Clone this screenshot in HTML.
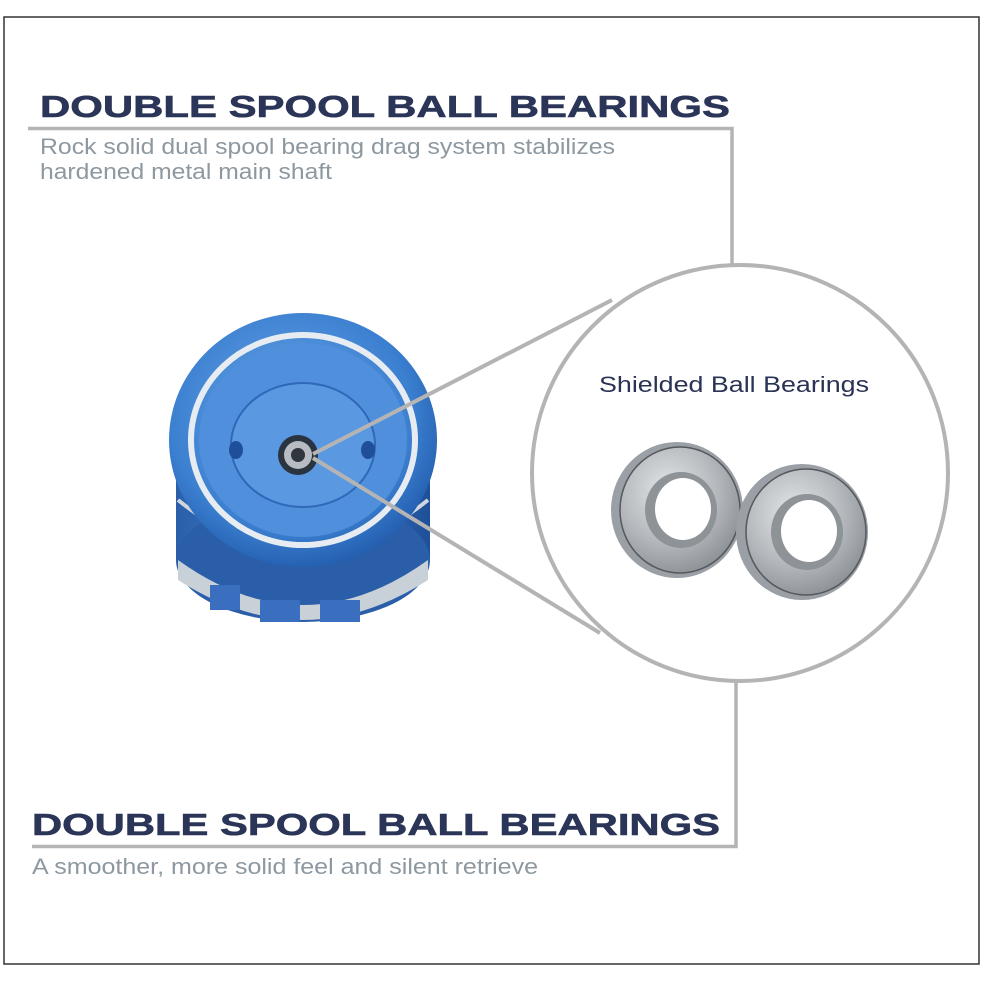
<!DOCTYPE html>
<html><head><meta charset="utf-8"><style>
html,body{margin:0;padding:0;background:#fff;width:984px;height:984px;overflow:hidden}
svg{display:block}
</style></head><body>
<svg width="984" height="984" viewBox="0 0 984 984" xmlns="http://www.w3.org/2000/svg">
<defs>
<radialGradient id="blue" cx="45%" cy="40%" r="65%">
<stop offset="0" stop-color="#6aa6e6"/><stop offset="0.7" stop-color="#3b7fd0"/><stop offset="1" stop-color="#1f57a8"/>
</radialGradient>
<linearGradient id="side" x1="0" y1="0" x2="1" y2="0">
<stop offset="0" stop-color="#2a5ea8"/><stop offset="0.5" stop-color="#4a8ad8"/><stop offset="1" stop-color="#1e4f98"/>
</linearGradient>
<radialGradient id="steel" cx="40%" cy="35%" r="70%">
<stop offset="0" stop-color="#e4e6e8"/><stop offset="0.6" stop-color="#b3b7bb"/><stop offset="1" stop-color="#8a8f94"/>
</radialGradient>
</defs>
<rect x="4" y="17" width="975" height="947" fill="#fff" stroke="#333" stroke-width="1.5"/>

<!-- top heading -->
<text x="40" y="117" font-family="Liberation Sans, sans-serif" font-weight="bold" font-size="31" fill="#2b3558" textLength="690" lengthAdjust="spacingAndGlyphs" stroke="#2b3558" stroke-width="0.6">DOUBLE SPOOL BALL BEARINGS</text>
<polyline points="28,128.5 732,128.5 732,266" fill="none" stroke="#b4b4b4" stroke-width="3.5"/>
<text x="40" y="154" font-family="Liberation Sans, sans-serif" font-size="22" fill="#8d98a0" textLength="575" lengthAdjust="spacingAndGlyphs">Rock solid dual spool bearing drag system stabilizes</text>
<text x="40" y="179" font-family="Liberation Sans, sans-serif" font-size="22" fill="#8d98a0" textLength="292" lengthAdjust="spacingAndGlyphs">hardened metal main shaft</text>

<!-- spool -->
<path d="M176,470 L176,560 Q303,660 430,560 L430,470 Z" fill="url(#side)"/>
<ellipse cx="303" cy="560" rx="127" ry="62" fill="#2a5ea8"/>
<path d="M178,500 Q303,600 428,500" fill="none" stroke="#cfd6de" stroke-width="4"/>
<path d="M178,560 Q303,650 428,560 L428,580 Q303,660 178,580 Z" fill="#c8d0d8"/>
<rect x="210" y="585" width="30" height="25" fill="#3a6fbf"/>
<rect x="260" y="600" width="40" height="22" fill="#3a6fbf"/>
<rect x="320" y="600" width="40" height="22" fill="#3a6fbf"/>
<ellipse cx="303" cy="440" rx="134" ry="127" fill="url(#blue)"/>
<ellipse cx="303" cy="440" rx="112" ry="105" fill="none" stroke="#e6ecf2" stroke-width="6"/>
<ellipse cx="303" cy="440" rx="104" ry="97" fill="#4f8fdc"/>
<ellipse cx="303" cy="445" rx="72" ry="62" fill="#5a99e2" stroke="#2f68b8" stroke-width="2"/>
<ellipse cx="236" cy="450" rx="7" ry="9" fill="#1f4f98"/>
<ellipse cx="368" cy="450" rx="7" ry="9" fill="#1f4f98"/>
<circle cx="298" cy="455" r="20" fill="#2a3340"/>
<circle cx="298" cy="455" r="14" fill="#b8bcc2"/>
<circle cx="298" cy="455" r="7" fill="#30363e"/>

<!-- connectors -->
<line x1="313" y1="454" x2="612" y2="300" stroke="#b4b4b4" stroke-width="4"/>
<line x1="313" y1="458" x2="600" y2="633" stroke="#b4b4b4" stroke-width="4"/>

<!-- circle -->
<circle cx="740" cy="473" r="208" fill="#fff" stroke="#b4b4b4" stroke-width="4"/>
<text x="599" y="392" font-family="Liberation Sans, sans-serif" font-size="22" fill="#2a3355" textLength="270" lengthAdjust="spacingAndGlyphs">Shielded Ball Bearings</text>

<!-- bearings -->
<g>
<ellipse cx="677" cy="510" rx="66" ry="68" fill="#9aa0a6"/>
<ellipse cx="680" cy="510" rx="60" ry="63" fill="url(#steel)" stroke="#55595e" stroke-width="1.5"/>
<ellipse cx="681" cy="510" rx="36" ry="38" fill="#8e9398"/>
<ellipse cx="683" cy="509" rx="28" ry="31" fill="#fff"/>
</g>
<g>
<ellipse cx="802" cy="532" rx="66" ry="68" fill="#9aa0a6"/>
<ellipse cx="806" cy="532" rx="60" ry="63" fill="url(#steel)" stroke="#55595e" stroke-width="1.5"/>
<ellipse cx="807" cy="532" rx="36" ry="38" fill="#8e9398"/>
<ellipse cx="809" cy="531" rx="28" ry="31" fill="#fff"/>
</g>

<!-- bottom -->
<polyline points="736,681 736,846.5 32,846.5" fill="none" stroke="#b4b4b4" stroke-width="3.5"/>
<text x="32" y="835" font-family="Liberation Sans, sans-serif" font-weight="bold" font-size="31" fill="#2b3558" textLength="688" lengthAdjust="spacingAndGlyphs" stroke="#2b3558" stroke-width="0.6">DOUBLE SPOOL BALL BEARINGS</text>
<text x="32" y="874" font-family="Liberation Sans, sans-serif" font-size="22" fill="#8d98a0" textLength="506" lengthAdjust="spacingAndGlyphs">A smoother, more solid feel and silent retrieve</text>
</svg>
</body></html>
